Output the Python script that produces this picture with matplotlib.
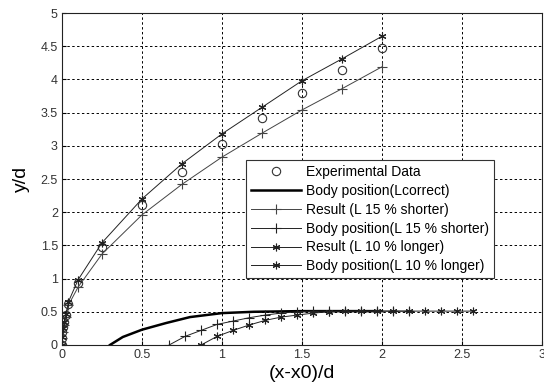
import numpy as np
import matplotlib.pyplot as plt

plt.rcParams['font.family'] = ['Liberation Sans', 'DejaVu Sans']

# experimental data
exp_x = [0, 0, 0.003, 0.008, 0.015, 0.025, 0.04, 0.1, 0.25, 0.5, 0.75, 1.0, 1.25, 1.5, 1.75, 2.0]
exp_y = [0, 0.1, 0.2, 0.27, 0.35, 0.45, 0.62, 0.93, 1.48, 2.11, 2.61, 3.03, 3.42, 3.80, 4.14, 4.47]

# body position, correct length
body_x = [0.3, 0.38, 0.5, 0.65, 0.8, 1.0, 1.2, 1.5, 2.0]
body_y = [0, 0.12, 0.23, 0.33, 0.42, 0.48, 0.5, 0.51, 0.51]

# results (trajectories)
res_x = [0, 0.003, 0.008, 0.015, 0.025, 0.04, 0.1, 0.25, 0.5, 0.75, 1.0, 1.25, 1.5, 1.75, 2.0]
res_short_y = [0, 0.1, 0.2, 0.3, 0.42, 0.6, 0.87, 1.37, 1.96, 2.42, 2.83, 3.19, 3.54, 3.86, 4.19]
res_long_y = [0, 0.12, 0.25, 0.35, 0.47, 0.65, 0.98, 1.54, 2.20, 2.73, 3.18, 3.58, 3.98, 4.31, 4.65]

# body positions, 15% shorter / 10% longer
bs_x = [0.67, 0.77, 0.87, 0.97, 1.07, 1.17, 1.27, 1.37, 1.47, 1.57, 1.67, 1.77, 1.87, 1.97, 2.07, 2.17]
bs_y = [0, 0.13, 0.22, 0.31, 0.36, 0.41, 0.45, 0.48, 0.5, 0.51, 0.51, 0.51, 0.51, 0.51, 0.51, 0.51]
bl_x = [0.87, 0.97, 1.07, 1.17, 1.27, 1.37, 1.47, 1.57, 1.67, 1.77, 1.87, 1.97, 2.07, 2.17, 2.27, 2.37, 2.47, 2.57]
bl_y = [0, 0.13, 0.22, 0.3, 0.37, 0.42, 0.45, 0.48, 0.5, 0.51, 0.51, 0.51, 0.51, 0.51, 0.51, 0.51, 0.51, 0.51]

ast = (6, 2, 0)

fig = plt.figure(figsize=(5.44, 3.85), dpi=100)
ax = fig.add_axes([0.114, 0.104, 0.882, 0.862])

ax.plot(exp_x, exp_y, 'o', mfc='none', mec='#333333', ms=6, mew=0.8, label='Experimental Data')
ax.plot(body_x, body_y, '-', color='black', lw=1.8, label='Body position(Lcorrect)')
ax.plot(res_x, res_short_y, '-', marker='+', color='#444444', lw=0.7, ms=6.5, mew=0.8,
        label='Result (L 15 % shorter)')
ax.plot(bs_x, bs_y, '-', marker='+', color='#222222', lw=0.7, ms=6.5, mew=0.8,
        label='Body position(L 15 % shorter)')
ax.plot(res_x, res_long_y, '-', marker=ast, color='#222222', lw=0.7, ms=5.5, mew=0.8,
        label='Result (L 10 % longer)')
ax.plot(bl_x, bl_y, '-', marker=ast, color='#222222', lw=0.7, ms=5.5, mew=0.8,
        label='Body position(L 10 % longer)')

ax.set_xlim(0, 3)
ax.set_ylim(0, 5)
ax.set_xticks(np.arange(0, 3.01, 0.5))
ax.set_yticks(np.arange(0, 5.01, 0.5))
ax.set_xticklabels(['%g' % v for v in np.arange(0, 3.01, 0.5)])
ax.set_yticklabels(['%g' % v for v in np.arange(0, 5.01, 0.5)])
ax.tick_params(direction='in', length=3, labelsize=9, labelcolor='#333333', pad=3)
ax.grid(True, color='black', linestyle=(0, (2.5, 2.5)), lw=0.7)
for s in ax.spines.values():
    s.set_linewidth(0.8)
    s.set_color('#222222')

ax.set_xlabel('(x-x0)/d', fontsize=14, labelpad=3)
ax.set_ylabel('y/d', fontsize=14, labelpad=8)

leg = ax.legend(loc='upper left', bbox_to_anchor=(0.383, 0.557), fontsize=10,
                frameon=True, fancybox=False, edgecolor='#333333', framealpha=1,
                borderpad=0.35, labelspacing=0.35, handlelength=3.6, handletextpad=0.4,
                borderaxespad=0)
leg.get_frame().set_linewidth(0.8)

fig.savefig('out.png', dpi=100)
